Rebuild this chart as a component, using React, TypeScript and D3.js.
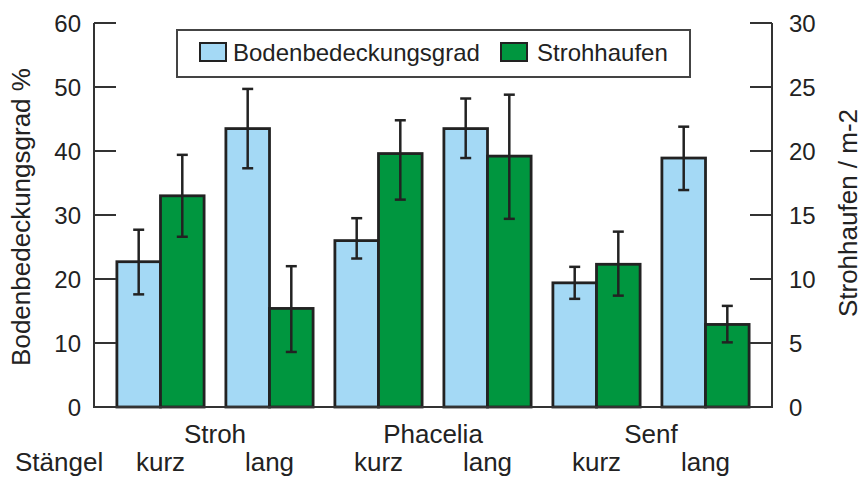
import React from "react";
import * as d3 from "d3";

// Crop residue treatments: each crop was sampled with short and long stems
const crops = ["Stroh", "Phacelia", "Senf"];
const stems = ["kurz", "lang"];
const groups = ["Stroh-kurz", "Stroh-lang", "Phacelia-kurz", "Phacelia-lang", "Senf-kurz", "Senf-lang"];

// Soil cover in percent (left axis) with lower / upper error bounds
const cover = [22.7, 43.5, 26.0, 43.5, 19.4, 38.9];
const coverLow = [17.6, 37.3, 23.2, 38.9, 16.9, 33.9];
const coverHigh = [27.7, 49.7, 29.5, 48.2, 21.9, 43.8];

// Straw heaps per square metre (right axis) with lower / upper error bounds
const heaps = [16.5, 7.7, 19.8, 19.6, 11.15, 6.45];
const heapsLow = [13.3, 4.3, 16.2, 14.7, 8.7, 5.05];
const heapsHigh = [19.7, 11.0, 22.4, 24.4, 13.7, 7.9];

const seriesNames = ["Bodenbedeckungsgrad", "Strohhaufen"];
const leftTicks = [0, 10, 20, 30, 40, 50, 60];
const rightTicks = [0, 5, 10, 15, 20, 25, 30];

const W = 863;
const H = 479;
const plot = { left: 94, right: 772, top: 23, bottom: 407 };
const FONT = "'Liberation Sans', Arial, Helvetica, sans-serif";
const BLUE = "#a4d9f5";
const GREEN = "#00963f";
const INK = "#222";

export default function App() {
  const x = d3.scaleBand<string>().domain(groups).range([plot.left, plot.right]).paddingInner(0.2).paddingOuter(0.21);
  const xs = d3.scaleBand<string>().domain(seriesNames).range([0, x.bandwidth()]);
  const yL = d3.scaleLinear().domain([0, 60]).range([plot.bottom, plot.top]);
  const yR = d3.scaleLinear().domain([0, 30]).range([plot.bottom, plot.top]);

  const series = [
    { name: seriesNames[0], values: cover, low: coverLow, high: coverHigh, scale: yL, fill: BLUE },
    { name: seriesNames[1], values: heaps, low: heapsLow, high: heapsHigh, scale: yR, fill: GREEN },
  ];

  const capHalf = 5.5;
  const tickLen = 22;
  const midY = (plot.top + plot.bottom) / 2;

  return (
    <svg width={W} height={H} style={{ position: "absolute", left: 0, top: 0, background: "#fff" }} fontFamily={FONT}>
      {/* bars */}
      {series.map((s) =>
        groups.map((g, i) => {
          const bx = (x(g) ?? 0) + (xs(s.name) ?? 0);
          const by = s.scale(s.values[i]);
          return (
            <rect key={s.name + g} x={bx} y={by} width={xs.bandwidth()} height={plot.bottom - by}
              fill={s.fill} stroke={INK} strokeWidth={2.8} />
          );
        })
      )}
      {/* error bars */}
      {series.map((s) =>
        groups.map((g, i) => {
          const cx = (x(g) ?? 0) + (xs(s.name) ?? 0) + xs.bandwidth() / 2;
          const hi = s.scale(s.high[i]);
          const lo = s.scale(s.low[i]);
          return (
            <g key={"e" + s.name + g} stroke={INK} strokeWidth={2.5}>
              <line x1={cx} x2={cx} y1={hi} y2={lo} />
              <line x1={cx - capHalf} x2={cx + capHalf} y1={hi} y2={hi} />
              <line x1={cx - capHalf} x2={cx + capHalf} y1={lo} y2={lo} />
            </g>
          );
        })
      )}
      {/* axes frame */}
      <g stroke="#333" strokeWidth={2} fill="none">
        <polyline points={`${plot.left},${plot.top} ${plot.left},${plot.bottom} ${plot.right},${plot.bottom} ${plot.right},${plot.top}`} />
        {leftTicks.map((t) => (
          <line key={"lt" + t} x1={plot.left} x2={plot.left + tickLen} y1={yL(t)} y2={yL(t)} />
        ))}
        {rightTicks.map((t) => (
          <line key={"rt" + t} x1={plot.right - tickLen} x2={plot.right} y1={yR(t)} y2={yR(t)} />
        ))}
      </g>
      {/* tick labels */}
      <g fontSize={24} fill={INK}>
        {leftTicks.map((t) => (
          <text key={"ll" + t} x={81} y={yL(t)} dy="0.36em" textAnchor="end">{t}</text>
        ))}
        {rightTicks.map((t) => (
          <text key={"rl" + t} x={789} y={yR(t)} dy="0.36em" textAnchor="start">{t}</text>
        ))}
      </g>
      {/* axis titles */}
      <text transform={`translate(30,${midY + 2}) rotate(-90)`} textAnchor="middle" fontSize={26} fill={INK}>
        Bodenbedeckungsgrad %
      </text>
      <text transform={`translate(857,${midY - 2}) rotate(-90)`} textAnchor="middle" fontSize={26} fill={INK}>
        Strohhaufen / m-2
      </text>
      {/* category labels */}
      <g fontSize={26} fill={INK} textAnchor="middle">
        {crops.map((c, k) => {
          const a = x(groups[2 * k]) ?? 0;
          const b = (x(groups[2 * k + 1]) ?? 0) + x.bandwidth();
          return <text key={c} x={(a + b) / 2} y={443}>{c}</text>;
        })}
        {groups.map((g, i) => (
          <text key={"s" + g} x={(x(g) ?? 0) + x.bandwidth() / 2} y={471}>{stems[i % 2]}</text>
        ))}
        <text x={15} y={471} textAnchor="start">Stängel</text>
      </g>
      {/* legend */}
      <g>
        <rect x={177} y={30} width={513} height={47} fill="#fff" stroke="#444" strokeWidth={2} />
        <rect x={200} y={43} width={26} height={18} fill={BLUE} stroke={INK} strokeWidth={2} />
        <text x={233} y={61} fontSize={24} fill={INK}>{seriesNames[0]}</text>
        <rect x={501} y={43} width={26} height={18} fill={GREEN} stroke={INK} strokeWidth={2} />
        <text x={537} y={61} fontSize={24} fill={INK}>{seriesNames[1]}</text>
      </g>
    </svg>
  );
}
